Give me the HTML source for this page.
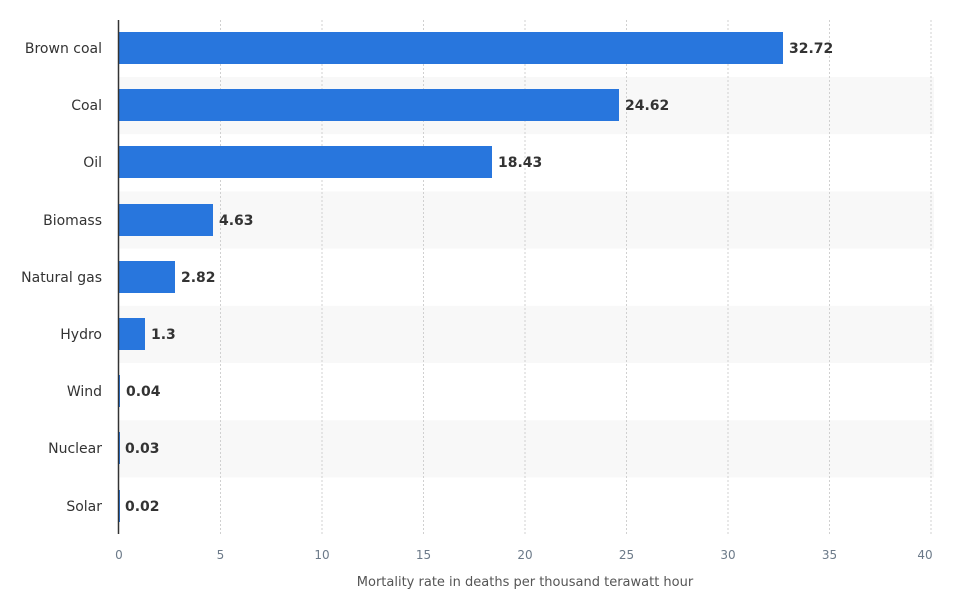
<!DOCTYPE html>
<html><head><style>body{margin:0;background:#fff}svg{display:block}text{font-family:"DejaVu Sans","Liberation Sans",sans-serif}</style></head><body>
<svg width="969" height="603" xmlns="http://www.w3.org/2000/svg">
<g fill="#f8f8f8">
<rect x="119" y="77" width="815" height="57.2"/>
<rect x="119" y="191.4" width="815" height="57.2"/>
<rect x="119" y="305.8" width="815" height="57.2"/>
<rect x="119" y="420.2" width="815" height="57.2"/>
</g>
<g stroke="#d0d0d0" stroke-dasharray="2,2" stroke-width="1">
<line x1="220.5" y1="20" x2="220.5" y2="534"/><line x1="322" y1="20" x2="322" y2="534"/><line x1="423.5" y1="20" x2="423.5" y2="534"/><line x1="525" y1="20" x2="525" y2="534"/><line x1="626.5" y1="20" x2="626.5" y2="534"/><line x1="728" y1="20" x2="728" y2="534"/><line x1="829.5" y1="20" x2="829.5" y2="534"/><line x1="931" y1="20" x2="931" y2="534"/>
</g>
<g fill="#2876dd">
<rect x="119" y="32" width="664" height="32"/>
<rect x="119" y="89" width="500" height="32"/>
<rect x="119" y="146" width="373" height="32"/>
<rect x="119" y="204" width="94" height="32"/>
<rect x="119" y="261" width="56" height="32"/>
<rect x="119" y="318" width="26" height="32"/>
<rect x="119" y="375" width="1" height="32"/>
<rect x="119" y="432" width="1" height="32"/>
<rect x="119" y="490" width="1" height="32"/>
</g>
<line x1="118.5" y1="20" x2="118.5" y2="534" stroke="#333" stroke-width="1.5"/>
<g font-size="14" fill="#333" text-anchor="end">
<text x="102" y="53">Brown coal</text><text x="102" y="110">Coal</text><text x="102" y="167">Oil</text><text x="102" y="225">Biomass</text><text x="102" y="282">Natural gas</text><text x="102" y="339">Hydro</text><text x="102" y="396">Wind</text><text x="102" y="453">Nuclear</text><text x="102" y="511">Solar</text>
</g>
<g font-size="14" font-weight="bold" fill="#333">
<text x="789" y="53">32.72</text><text x="625" y="110">24.62</text><text x="498" y="167">18.43</text><text x="219" y="225">4.63</text><text x="181" y="282">2.82</text><text x="151" y="339">1.3</text><text x="126" y="396">0.04</text><text x="125" y="453">0.03</text><text x="125" y="511">0.02</text>
</g>
<g font-size="12" fill="#6c7a89" text-anchor="middle">
<text x="119" y="559">0</text><text x="220.5" y="559">5</text><text x="322" y="559">10</text><text x="423.5" y="559">15</text><text x="525" y="559">20</text><text x="626.5" y="559">25</text><text x="728" y="559">30</text><text x="829.5" y="559">35</text><text x="925" y="559">40</text>
</g>
<text x="525" y="586" font-size="13" fill="#555" text-anchor="middle">Mortality rate in deaths per thousand terawatt hour</text>
</svg>
</body></html>
